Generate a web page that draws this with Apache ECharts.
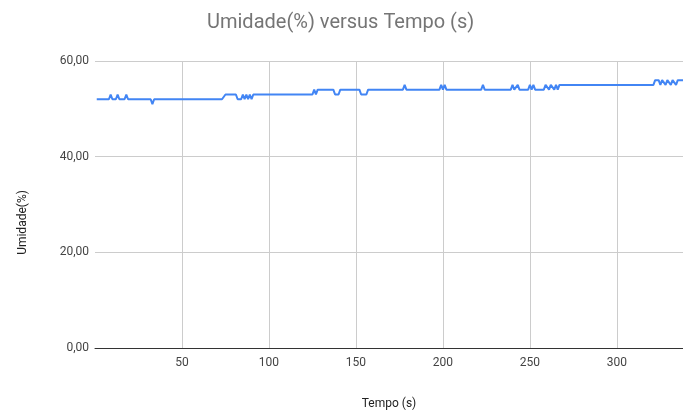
<!DOCTYPE html>
<html>
<head>
<meta charset="utf-8">
<script src="https://cdn.jsdelivr.net/npm/echarts@6/dist/echarts.min.js"></script>
<style>html,body{margin:0;padding:0;background:#fff}#c{width:683px;height:412px}</style>
</head>
<body>
<div id="c"></div>
<script>
const chartTitle = 'Umidade(%) versus Tempo (s)';
const xName = 'Tempo (s)';
const yName = 'Umidade(%)';
// Breakpoints of the humidity trace: time (s)
const tempo = [1,8,9,10,12,13,14,17,18,19,32,33,34,73,75,81,82,84,85,86,87,88,89,90,91,92,
  125,126,127,128,137,138,140,141,152,153,156,157,177,178,179,198,199,200,201,202,
  222,223,224,239,240,241,243,244,249,250,251,252,253,258,259,260,261,262,264,265,266,267,
  321,322,324,325,326,327,328,329,330,331,332,333,334,335,338];
// Humidity values (%) at those times
const umidade = [52,52,53,52,52,53,52,52,53,52,52,51,52,52,53,53,52,52,53,52,53,52,53,52,53,53,
  53,54,53,54,54,53,53,54,54,53,53,54,54,55,54,54,55,54,55,54,
  54,55,54,54,55,54,55,54,54,55,54,55,54,54,55,55,54,55,54,55,54,55,
  55,56,56,55,56,56,55,56,56,55,56,56,55,56,56];
const yTicks = [0,20,40,60];
const xTicks = [50,100,150,200,250,300];

const data = tempo.map((t,i)=>[t, umidade[i]]);
const chart = echarts.init(document.getElementById('c'));
chart.setOption({
  animation:false,
  textStyle:{fontFamily:'Roboto'},
  title:{text:chartTitle,left:202,top:8,textStyle:{fontSize:20,fontWeight:'normal',color:'#757575',fontFamily:'Roboto'}},
  grid:{left:95,right:0,top:61,bottom:64,outerBoundsMode:'none',containLabel:false},
  xAxis:{type:'value',min:0,max:338,interval:50,
    name:xName,nameLocation:'middle',nameGap:50,nameTextStyle:{fontSize:12,color:'#222'},
    axisLine:{show:true,onZero:false,lineStyle:{color:'#333',width:1}},
    axisTick:{show:false},
    axisLabel:{color:'#444',fontSize:12,margin:9,showMinLabel:false,showMaxLabel:false,
      formatter:v=>xTicks.includes(v)?String(v):''},
    splitLine:{show:true,showMinLine:false,showMaxLine:false,lineStyle:{color:'#cccccc'}}},
  yAxis:{type:'value',min:yTicks[0],max:yTicks[yTicks.length-1],interval:20,
    name:yName,nameLocation:'middle',nameGap:66,nameTextStyle:{fontSize:12,color:'#222',padding:[0,36,0,0]},
    axisLine:{show:false},axisTick:{show:false},
    axisLabel:{color:'#444',fontSize:12,margin:6,formatter:v=>v.toFixed(2).replace('.',',')},
    splitLine:{show:true,lineStyle:{color:'#cccccc'}}},
  series:[{type:'line',data:data,symbol:'none',lineStyle:{color:'#4285F4',width:2},itemStyle:{color:'#4285F4'}}]
});
</script>
</body>
</html>
